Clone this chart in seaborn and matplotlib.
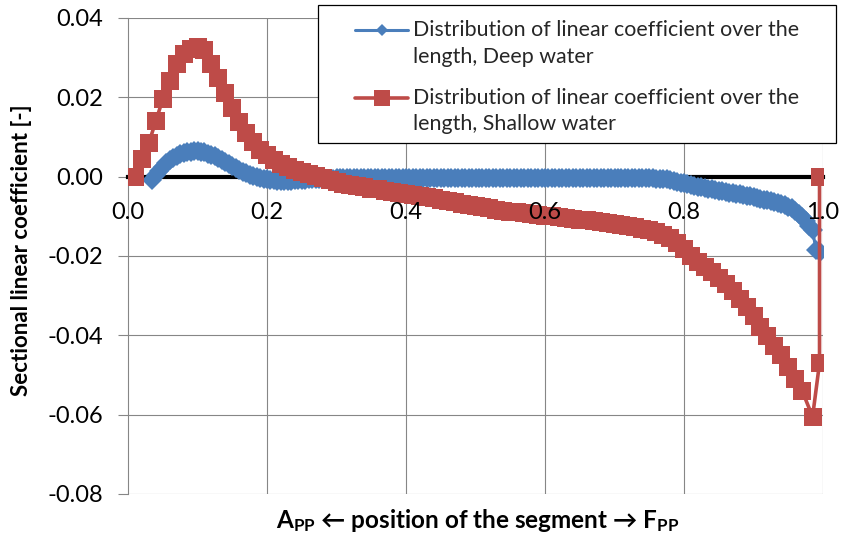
import numpy as np
import pandas as pd
import matplotlib
matplotlib.use("Agg")
import matplotlib.pyplot as plt
import seaborn as sns
from matplotlib.legend_handler import HandlerLine2D
from matplotlib.patches import Rectangle

# ---------------- data ----------------
# Deep water (blue diamonds), positions every 0.005 from 0.035 to 0.995
deep_x = [round(0.035 + 0.005 * i, 3) for i in range(193)]
deep_y = [
    -0.0008, 0.0005, 0.0015, 0.0025, 0.0035, 0.0042, 0.0048, 0.0053, 0.0057, 0.0060,
    0.0062, 0.0063, 0.0064, 0.0064, 0.0063, 0.0061, 0.0058, 0.0055, 0.0051, 0.0046,
    0.0041, 0.0036, 0.0031, 0.0026, 0.0021, 0.0016, 0.0012, 0.0008, 0.0005, 0.0002,
    -0.0001, -0.0003, -0.0005, -0.0007, -0.0008, -0.0009, -0.0010, -0.0010, -0.0010, -0.0010,
    -0.0010, -0.0009, -0.0009, -0.0008, -0.0008, -0.0007, -0.0007, -0.0006, -0.0006, -0.0005,
    -0.0005, -0.0005, -0.0005, -0.0004, -0.0004, -0.0004, -0.0004, -0.0004, -0.0004, -0.0004,
    -0.0004, -0.0004, -0.0004, -0.0004, -0.0004, -0.0004, -0.0004, -0.0004, -0.0004, -0.0004,
    -0.0004, -0.0004, -0.0004, -0.0004, -0.0004, -0.0004, -0.0004, -0.0004, -0.0004, -0.0004,
    -0.0004, -0.0004, -0.0004, -0.0004, -0.0004, -0.0004, -0.0004, -0.0004, -0.0004, -0.0004,
    -0.0004, -0.0004, -0.0004, -0.0004, -0.0004, -0.0004, -0.0004, -0.0004, -0.0004, -0.0004,
    -0.0004, -0.0004, -0.0004, -0.0004, -0.0004, -0.0004, -0.0004, -0.0004, -0.0004, -0.0004,
    -0.0004, -0.0004, -0.0004, -0.0004, -0.0004, -0.0004, -0.0004, -0.0004, -0.0004, -0.0004,
    -0.0004, -0.0004, -0.0004, -0.0004, -0.0004, -0.0004, -0.0004, -0.0004, -0.0004, -0.0004,
    -0.0004, -0.0004, -0.0004, -0.0004, -0.0004, -0.0004, -0.0004, -0.0004, -0.0004, -0.0004,
    -0.0004, -0.0004, -0.0004, -0.0004, -0.0004, -0.0005, -0.0005, -0.0006, -0.0007, -0.0009,
    -0.0011, -0.0013, -0.0015, -0.0017, -0.0019, -0.0021, -0.0023, -0.0025, -0.0027, -0.0029,
    -0.0031, -0.0032, -0.0034, -0.0035, -0.0037, -0.0038, -0.0040, -0.0041, -0.0043, -0.0044,
    -0.0046, -0.0048, -0.0050, -0.0052, -0.0054, -0.0056, -0.0058, -0.0060, -0.0062, -0.0064,
    -0.0066, -0.0069, -0.0072, -0.0076, -0.0080, -0.0086, -0.0093, -0.0102, -0.0112, -0.0124,
    -0.0135, -0.0185, -0.0190,
]

# Shallow water (red squares), positions every 0.01 from 0.00 to 0.97, then the bow end
shallow_x = [round(0.01 * i, 2) for i in range(98)] + [0.985, 0.995, 0.995]
shallow_y = [
    0.0000, 0.0000, 0.0045, 0.0085, 0.0140, 0.0195, 0.0240, 0.0285, 0.0310, 0.0322,
    0.0327, 0.0320, 0.0285, 0.0248, 0.0212, 0.0172, 0.0138, 0.0110, 0.0088, 0.0068,
    0.0055, 0.0043, 0.0033, 0.0024, 0.0016, 0.0011, 0.0007, 0.0002, -0.0003, -0.0009,
    -0.0014, -0.0018, -0.0021, -0.0024, -0.0027, -0.0030, -0.0032, -0.0035, -0.0038, -0.0040,
    -0.0043, -0.0046, -0.0049, -0.0052, -0.0055, -0.0058, -0.0061, -0.0064, -0.0068, -0.0071,
    -0.0074, -0.0077, -0.0080, -0.0083, -0.0086, -0.0088, -0.0090, -0.0092, -0.0094, -0.0096,
    -0.0098, -0.0100, -0.0102, -0.0104, -0.0106, -0.0108, -0.0110, -0.0112, -0.0114, -0.0116,
    -0.0119, -0.0122, -0.0125, -0.0128, -0.0131, -0.0135, -0.0140, -0.0146, -0.0155, -0.0167,
    -0.0182, -0.0200, -0.0215, -0.0228, -0.0240, -0.0255, -0.0270, -0.0288, -0.0308, -0.0328,
    -0.0350, -0.0378, -0.0402, -0.0428, -0.0450, -0.0480, -0.0510, -0.0540,
    -0.0605, -0.0470, 0.0000,
]

x_ticks = [0.0, 0.2, 0.4, 0.6, 0.8, 1.0]
x_tick_labels = ["0.0", "0.2", "0.4", "0.6", "0.8", "1.0"]
y_ticks = [-0.08, -0.06, -0.04, -0.02, 0.00, 0.02, 0.04]
y_tick_labels = ["-0.08", "-0.06", "-0.04", "-0.02", "0.00", "0.02", "0.04"]

deep_label = "Distribution of linear coefficient over the\nlength, Deep water"
shallow_label = "Distribution of linear coefficient over the\nlength, Shallow water"
x_label = r"A$_{\mathrm{PP}}$ ← position of the segment → F$_{\mathrm{PP}}$"
y_label = "Sectional linear coefficient [-]"

BLUE = "#4A7EBB"
RED = "#BE4B48"
GRID = "#868686"

# ---------------- style ----------------
sns.set_theme(style="white")
plt.rcParams["font.family"] = ["Lato", "DejaVu Sans"]
plt.rcParams["axes.unicode_minus"] = False
plt.rcParams["mathtext.fontset"] = "custom"
plt.rcParams["mathtext.rm"] = "Lato:bold"
plt.rcParams["mathtext.it"] = "Lato:bold"
plt.rcParams["mathtext.bf"] = "Lato:bold"

W, H = 843, 534
fig = plt.figure(figsize=(W / 100, H / 100), dpi=100)
ax = fig.add_axes([128 / W, 1 - 494 / H, 695 / W, 476 / H])

deep = pd.DataFrame({"x": deep_x, "y": deep_y})
shallow = pd.DataFrame({"x": shallow_x, "y": shallow_y})

sns.lineplot(data=deep, x="x", y="y", ax=ax, color=BLUE, linewidth=2.2,
             marker="D", markersize=9.8, markeredgecolor=BLUE, markeredgewidth=0,
             estimator=None, sort=False, label=deep_label, zorder=3)
sns.lineplot(data=shallow, x="x", y="y", ax=ax, color=RED, linewidth=2.6,
             marker="s", markersize=13.5, markeredgecolor=RED, markeredgewidth=0,
             estimator=None, sort=False, label=shallow_label, zorder=4)

ax.set_xlim(0, 1)
ax.set_ylim(-0.08, 0.04)
ax.set_xticks(x_ticks)
ax.set_xticklabels(x_tick_labels)
ax.set_yticks(y_ticks)
ax.set_yticklabels(y_tick_labels)
ax.grid(True, axis="y", color=GRID, linewidth=0.8)
ax.grid(False, axis="x")
for xv in x_ticks[1:]:
    ax.axvline(xv, color=GRID, linewidth=0.8, zorder=0.5)
ax.set_axisbelow(True)
ax.xaxis.set_zorder(5)

for s in ("top", "right"):
    ax.spines[s].set_visible(False)
ax.spines["left"].set_color(GRID)
ax.spines["left"].set_linewidth(0.8)
ax.spines["bottom"].set_position(("data", 0))
ax.spines["bottom"].set_color("black")
ax.spines["bottom"].set_linewidth(3)
ax.spines["bottom"].set_zorder(2.5)

ax.tick_params(axis="x", length=0, pad=18, labelsize=17, labelcolor="black")
ax.tick_params(axis="y", length=7, width=0.8, color=GRID, direction="out",
               pad=11, labelsize=17, labelcolor="black", left=True)

ax.set_xlabel("")
ax.set_ylabel("")
fig.text(478 / W, 1 - 520 / H, x_label, ha="center", va="center",
         fontsize=17.5, fontweight="bold", color="black")
fig.text(22 / W, 1 - 250 / H, y_label, ha="center", va="center", rotation=90,
         fontsize=16, fontweight="bold", color="black")

# ---------------- legend ----------------
handles, labels = ax.get_legend_handles_labels()
if ax.get_legend() is not None:
    ax.get_legend().remove()


class UpHandler(HandlerLine2D):
    def __init__(self, shift, **kw):
        super().__init__(**kw)
        self.shift = shift

    def create_artists(self, legend, orig_handle, xdescent, ydescent,
                       width, height, fontsize, trans):
        return super().create_artists(legend, orig_handle, xdescent,
                                      ydescent - 2 * self.shift, width, height,
                                      fontsize, trans)


fig.patches.append(Rectangle((318 / W, 1 - 143 / H), (836 - 318) / W, (143 - 5) / H,
                             transform=fig.transFigure, facecolor="white",
                             edgecolor="black", linewidth=0.9, zorder=4))
leg = fig.legend(handles, labels, loc="upper left",
                 bbox_to_anchor=(355 / W, 1 - 20 / H), frameon=False,
                 fontsize=15.4, handlelength=2.48, handletextpad=0.23,
                 borderpad=0, borderaxespad=0, labelspacing=0.98, numpoints=1,
                 handler_map={h: UpHandler(9.8, numpoints=1) for h in handles})
leg.set_zorder(5)
for t in leg.get_texts():
    t.set_linespacing(1.42)
lh = leg.legend_handles
lh[0].set_markersize(6.5)
lh[1].set_markersize(11.5)

fig.savefig("out.png", dpi=100, facecolor="white")
